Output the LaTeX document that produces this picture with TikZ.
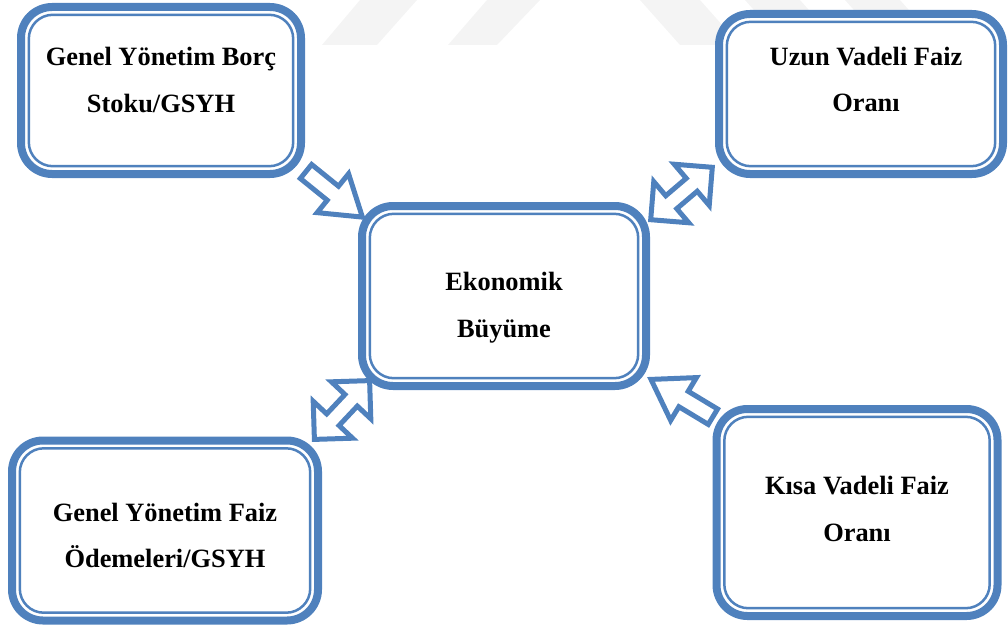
\documentclass[tikz,border=0pt]{standalone}
\usepackage{fontspec}
\setmainfont{Liberation Serif}
\usetikzlibrary{calc}

\definecolor{frameblue}{RGB}{79,129,189}
\definecolor{markgray}{RGB}{244,244,244}

\tikzset{
  x=1pt, y=-1pt,
  frame/.style={draw=frameblue, line width=8pt, rounded corners=31pt,
    fill=white, outer sep=0pt, inner sep=0pt},
  insetframe/.style={draw=frameblue, line width=2.5pt, rounded corners=24pt},
  caption/.style={font=\bfseries\fontsize{26.4}{46.5}\selectfont,
    align=center, inner sep=0pt},
  blockarrow/.style={draw=frameblue, line width=5pt, line join=miter,
    miter limit=20, fill=white},
}

% thin second outline just inside a frame node
\newcommand\insetline[1]{%
  \draw[insetframe] ([shift={(7.8,7.8)}]#1.north west)
    rectangle ([shift={(-7.8,-7.8)}]#1.south east);}

% hollow block arrow from #1 (tail middle) to #2 (tip)
\newcommand\singlearrow[2]{%
  \coordinate (neck) at ($(#2)!38pt!(#1)$);
  \draw[blockarrow]
    ($(#1)!9pt!90:(#2)$) -- ($(neck)!9pt!90:(#2)$)
    -- ($(neck)!25pt!90:(#2)$) -- (#2)
    -- ($(neck)!25pt!-90:(#2)$) -- ($(neck)!9pt!-90:(#2)$)
    -- ($(#1)!9pt!-90:(#2)$) -- cycle;}

% hollow block arrow with heads at both #1 and #2
\newcommand\doublearrow[2]{%
  \coordinate (necka) at ($(#1)!27pt!(#2)$);
  \coordinate (neckb) at ($(#2)!27pt!(#1)$);
  \draw[blockarrow]
    (#1) -- ($(necka)!27pt!90:(#2)$) -- ($(necka)!8.5pt!90:(#2)$)
    -- ($(neckb)!8.5pt!-90:(#1)$) -- ($(neckb)!27pt!-90:(#1)$)
    -- (#2)
    -- ($(neckb)!27pt!90:(#1)$) -- ($(neckb)!8.5pt!90:(#1)$)
    -- ($(necka)!8.5pt!-90:(#2)$) -- ($(necka)!27pt!-90:(#2)$)
    -- cycle;}

\begin{document}
\begin{tikzpicture}
\useasboundingbox (0,0) rectangle (1008,626);

% faint chevron in the background
\fill[markgray] (322,45) -- (377,45) -- (417,0) -- (360,0) -- cycle;
\fill[markgray] (448,45) -- (497,45) -- (540,0) -- (487,0) -- cycle;
\fill[markgray] (640,0) -- (700,0) -- (740,45) -- (680,45) -- cycle;
\fill[markgray] (745,0) -- (800,0) -- (840,45) -- (785,45) -- cycle;
\fill[markgray] (845,0) -- (900,0) -- (940,45) -- (885,45) -- cycle;

% arrow end points
\coordinate (debtout)  at (306,171.5);
\coordinate (debtin)   at (362.4,217.1);
\coordinate (shortout) at (712.9,416.7);
\coordinate (shortin)  at (651,379.4);
\coordinate (longa)    at (650.7,219.7);
\coordinate (longb)    at (712.3,167.3);
\coordinate (inta)     at (314.4,439.4);
\coordinate (intb)     at (369.6,380.6);

\singlearrow{debtout}{debtin}
\singlearrow{shortout}{shortin}
\doublearrow{longa}{longb}
\doublearrow{inta}{intb}

% boxes
\node[frame, minimum width=280pt, minimum height=167pt] (debt) at (161,90.5) {};
\insetline{debt}
\node[caption] at ($(debt)+(0,-10.5)$) {Genel Yönetim Borç\\Stoku/GSYH};

\node[frame, minimum width=284pt, minimum height=160pt] (longrate) at (861,94) {};
\insetline{longrate}
\node[caption] at ($(longrate)+(5,-14.5)$) {Uzun Vadeli Faiz\\Oranı};

\node[frame, minimum width=284pt, minimum height=180pt] (growth) at (504,296) {};
\insetline{growth}
\node[caption] at ($(growth)+(0,11.6)$) {Ekonomik\\Büyüme};

\node[frame, minimum width=306pt, minimum height=180pt] (interest) at (165,530.5) {};
\insetline{interest}
\node[caption] at ($(interest)+(0,5)$) {Genel Yönetim Faiz\\Ödemeleri/GSYH};

\node[frame, minimum width=281pt, minimum height=207pt] (shortrate) at (857,512.5) {};
\insetline{shortrate}
\node[caption] at ($(shortrate)+(0,-3.5)$) {Kısa Vadeli Faiz\\Oranı};

\end{tikzpicture}
\end{document}
